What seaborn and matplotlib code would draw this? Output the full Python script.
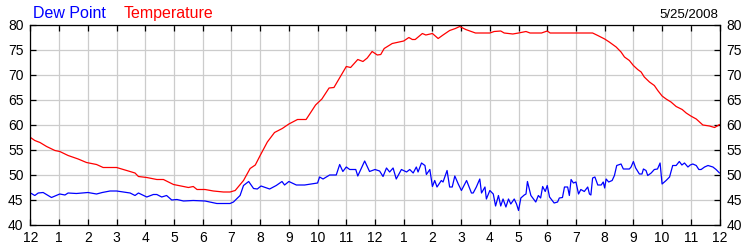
import matplotlib
matplotlib.use("Agg")
import matplotlib.pyplot as plt
import seaborn as sns
import pandas as pd

# ---- data (hours since midnight, °F) ----
temp_hours = [0, 0.15, 0.33, 0.56, 0.85, 1.02, 1.31, 1.66, 1.95, 2.3, 2.53, 3.0, 3.35, 3.64, 3.76,
              4.05, 4.4, 4.63, 4.98, 5.33, 5.5, 5.67, 5.8, 6.08, 6.37, 6.72, 6.95, 7.13, 7.42, 7.65,
              7.83, 8.0, 8.25, 8.5, 8.77, 9.0, 9.3, 9.6, 9.93, 10.15, 10.4, 10.57, 11.0, 11.15, 11.4,
              11.58, 11.73, 11.9, 12.08, 12.2, 12.32, 12.6, 13.0, 13.18, 13.3, 13.4, 13.65, 13.77, 14.0,
              14.2, 14.37, 14.6, 14.8, 14.95, 15.16, 15.5, 16.0, 16.15, 16.38, 16.5, 16.8, 17.0, 17.26,
              17.4, 17.8, 18.0, 18.1, 19.58, 19.76, 20.0, 20.16, 20.4, 20.57, 20.69, 20.86, 21.0, 21.15,
              21.27, 21.38, 21.56, 21.73, 21.85, 22.0, 22.14, 22.31, 22.49, 22.7, 22.84, 23.0, 23.19,
              23.42, 23.65, 23.83, 23.92, 24.0]
temperature = [57.4, 56.8, 56.4, 55.6, 54.8, 54.6, 53.8, 53.1, 52.4, 52.0, 51.4, 51.4, 50.8, 50.3, 49.6,
               49.4, 49.0, 49.0, 48.0, 47.6, 47.4, 47.6, 47.0, 47.0, 46.7, 46.5, 46.5, 46.8, 48.8, 51.2,
               51.9, 53.8, 56.5, 58.4, 59.2, 60.1, 61.0, 61.0, 63.9, 65.1, 67.3, 67.4, 71.6, 71.4, 73.0,
               72.6, 73.3, 74.6, 73.9, 74.0, 75.2, 76.2, 76.7, 77.4, 77.0, 77.0, 78.2, 77.9, 78.2,
               77.2, 77.9, 78.8, 79.2, 79.6, 79.0, 78.3, 78.3, 78.6, 78.7, 78.3, 78.1, 78.3, 78.6,
               78.3, 78.3, 78.7, 78.3, 78.3, 77.8, 77.1, 76.5, 75.5, 74.5, 73.5, 72.8, 71.8, 71.0,
               70.5, 69.5, 68.5, 67.8, 66.8, 65.7, 65.1, 64.5, 63.6, 63.0, 62.3, 61.7, 61.1,
               59.9, 59.7, 59.4, 59.7, 60.0]

dew_hours = [0, 0.15, 0.27, 0.44, 0.73, 1.02, 1.2, 1.31, 1.6, 2.0, 2.3, 2.5, 2.77, 3.0, 3.23, 3.47,
             3.64, 3.76, 4.05, 4.28, 4.4, 4.57, 4.74, 4.92, 5.1, 5.33, 5.67, 6.08, 6.49, 6.95, 7.07,
             7.3, 7.42, 7.6, 7.77, 7.9, 8.03, 8.33, 8.56, 8.76, 8.85, 9.0, 9.26, 9.55, 10.0, 10.07,
             10.19, 10.42, 10.65, 10.77, 10.88, 11.0, 11.12, 11.33, 11.4, 11.64, 11.81, 12.0, 12.16,
             12.28, 12.4, 12.51, 12.63, 12.74, 12.92, 13.1, 13.21, 13.33, 13.44, 13.5, 13.62, 13.74,
             13.79, 13.91, 14.0, 14.08, 14.16, 14.31, 14.37, 14.51, 14.6, 14.69, 14.78, 14.9, 15.01,
             15.19, 15.36, 15.42, 15.53, 15.65, 15.71, 15.83, 15.88, 16.0, 16.12, 16.2, 16.3, 16.38,
             16.46, 16.56, 16.65, 16.73, 16.85, 16.93, 17.0, 17.08, 17.2, 17.26, 17.31, 17.43, 17.6,
             17.69, 17.77, 17.84, 17.93, 18.0, 18.08, 18.24, 18.36, 18.42, 18.53, 18.6, 18.71, 18.77,
             18.83, 18.91, 19.0, 19.09, 19.17, 19.29, 19.41, 19.47, 19.52, 19.58, 19.66, 19.76, 19.88,
             19.95, 20.0, 20.05, 20.14, 20.26, 20.34, 20.42, 20.57, 20.65, 20.86, 20.92, 21.0, 21.08,
             21.21, 21.3, 21.35, 21.44, 21.5, 21.62, 21.73, 21.84, 21.93, 22.0, 22.14, 22.26, 22.37,
             22.49, 22.6, 22.69, 22.78, 22.9, 22.98, 23.07, 23.19, 23.28, 23.36, 23.48, 23.6, 23.77,
             23.88, 24.0]
dew_point = [46.3, 45.8, 46.3, 46.4, 45.4, 46.1, 45.9, 46.3, 46.2, 46.4, 46.1, 46.4, 46.7, 46.7, 46.5, 46.3,
             45.8, 46.3, 45.5, 46.0, 46.0, 45.5, 45.8, 44.9, 45.0, 44.7, 44.8, 44.7, 44.2, 44.2, 44.5,
             45.8, 47.8, 48.6, 47.2, 47.1, 47.7, 47.1, 47.8, 48.6, 47.9, 48.6, 47.9, 47.9, 48.3, 49.5,
             49.1, 49.9, 49.9, 52.0, 50.6, 51.5, 51.0, 51.0, 49.7, 52.7, 50.6, 51.0, 50.7,
             49.6, 51.3, 50.5, 51.3, 49.1, 51.0, 50.5, 51.0, 50.3, 51.5, 50.5, 52.3, 51.8,
             50.0, 51.0, 47.6, 48.8, 47.5, 48.8, 48.5, 50.8, 47.5, 47.5, 49.7, 48.1, 46.8,
             48.8, 46.3, 46.3, 47.5, 49.1, 46.3, 47.5, 45.1, 46.8, 46.1, 43.7, 45.8, 43.7,
             45.1, 43.5, 45.1, 44.1, 45.1, 44.1, 42.8, 45.3, 45.9, 46.1, 48.6, 45.8, 44.5,
             45.8, 45.3, 47.6, 46.6, 47.8, 45.5, 44.3, 44.5, 45.3, 45.4, 47.5, 47.5, 45.8,
             49.0, 48.3, 48.5, 46.1, 47.0, 46.6, 47.5, 46.1, 45.9, 49.3, 49.5, 47.9, 47.9,
             48.5, 47.3, 49.1, 48.5, 48.8, 49.8, 51.8, 52.1, 51.1, 51.1, 51.5, 52.6, 51.3,
             50.1, 50.1, 51.1, 50.8, 49.8, 50.3, 51.0, 51.1, 52.3, 48.1, 48.8, 49.5, 51.8,
             51.8, 52.6, 51.9, 52.3, 51.5, 51.9, 52.1, 51.8, 51.0, 51.0, 51.5, 51.8, 51.5,
             51.0, 50.3]

x_tick_labels = ["12", "1", "2", "3", "4", "5", "6", "7", "8", "9", "10", "11",
                 "12", "1", "2", "3", "4", "5", "6", "7", "8", "9", "10", "11", "12"]
y_ticks = [40, 45, 50, 55, 60, 65, 70, 75, 80]
date_label = "5/25/2008"

temp_df = pd.DataFrame({"hour": temp_hours, "value": temperature})
dew_df = pd.DataFrame({"hour": dew_hours, "value": dew_point})

sns.set_style("white")
plt.rcParams["font.family"] = ["Liberation Sans", "DejaVu Sans"]

fig = plt.figure(figsize=(7.5, 2.5), dpi=100)
ax = fig.add_axes([30.5 / 750, 1 - 224.5 / 250, 689 / 750, 200 / 250])

sns.lineplot(data=temp_df, x="hour", y="value", ax=ax, color="#ff0000", linewidth=0.9)
sns.lineplot(data=dew_df, x="hour", y="value", ax=ax, color="#0000ff", linewidth=0.9)

ax.set_xlim(0, 24)
ax.set_ylim(40, 80)
ax.set_xticks(range(25))
ax.set_xticklabels(x_tick_labels)
ax.set_yticks(y_ticks)
ax.set_xlabel("")
ax.set_ylabel("")
ax.grid(True, color="#cccccc", linewidth=0.9)
ax.set_axisbelow(True)
for s in ax.spines.values():
    s.set_color("black")
    s.set_linewidth(0.9)
    s.set_visible(True)
ax.tick_params(axis="both", direction="in", length=4, width=0.9, colors="black",
               labelsize=10, top=True, right=True, labelright=True, left=True, bottom=True)
ax.tick_params(axis="x", pad=5)
ax.tick_params(axis="y", pad=5)

fig.text(33 / 750, 1 - 18 / 250, "Dew Point", color="#0000ff", fontsize=11.5, va="baseline", ha="left")
fig.text(124 / 750, 1 - 18 / 250, "Temperature", color="#ff0000", fontsize=11.5, va="baseline", ha="left")
fig.text(718 / 750, 1 - 17.5 / 250, date_label, color="black", fontsize=9.5, va="baseline", ha="right")

fig.savefig("out.png", dpi=100)
